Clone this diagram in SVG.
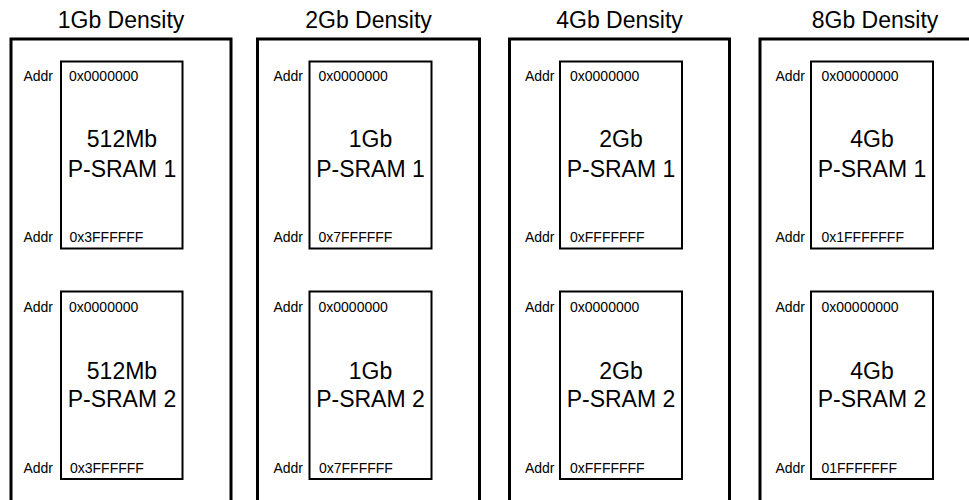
<svg xmlns="http://www.w3.org/2000/svg" width="969" height="500" viewBox="0 0 969 500">
<style>
.outer{fill:none;stroke:#000;stroke-width:3}
.inner{fill:#fff;stroke:#000;stroke-width:2}
text{font-family:"Liberation Sans",Arial,sans-serif;fill:#000}
.title{font-size:23px;text-anchor:middle}
.big{font-size:23px;text-anchor:middle}
.addr{font-size:14px;text-anchor:end}
.hex{font-size:14px}
</style>
<rect width="969" height="500" fill="#fff"/>
<g id="col1">
<text class="title" x="121" y="28">1Gb Density</text>
<rect class="outer" x="11" y="39" width="220" height="480"/>
<g id="c1-sram1">
<rect class="inner" x="61" y="61.5" width="121.5" height="187"/>
<text class="addr" x="53" y="81">Addr</text><text class="hex" x="69" y="81">0x0000000</text>
<text class="big" x="122" y="147">512Mb</text><text class="big" x="122" y="176.5">P-SRAM 1</text>
<text class="addr" x="53" y="241.5">Addr</text><text class="hex" x="69.5" y="241.5">0x3FFFFFF</text>
</g>
<g id="c1-sram2">
<rect class="inner" x="61" y="291.5" width="121.5" height="187.5"/>
<text class="addr" x="53" y="311.5">Addr</text><text class="hex" x="69" y="311.5">0x0000000</text>
<text class="big" x="122" y="379">512Mb</text><text class="big" x="122" y="407">P-SRAM 2</text>
<text class="addr" x="53" y="473">Addr</text><text class="hex" x="70" y="473">0x3FFFFFF</text>
</g>
</g>
<g id="col2">
<text class="title" x="368.5" y="28">2Gb Density</text>
<rect class="outer" x="257.5" y="39" width="222" height="480"/>
<g id="c2-sram1">
<rect class="inner" x="309.5" y="61.5" width="122" height="187"/>
<text class="addr" x="303" y="81">Addr</text><text class="hex" x="318.5" y="81">0x0000000</text>
<text class="big" x="370.5" y="147">1Gb</text><text class="big" x="370.5" y="176.5">P-SRAM 1</text>
<text class="addr" x="303" y="241.5">Addr</text><text class="hex" x="318.5" y="241.5">0x7FFFFFF</text>
</g>
<g id="c2-sram2">
<rect class="inner" x="309.5" y="291.5" width="122" height="187.5"/>
<text class="addr" x="303" y="311.5">Addr</text><text class="hex" x="318.5" y="311.5">0x0000000</text>
<text class="big" x="370.5" y="379">1Gb</text><text class="big" x="370.5" y="407">P-SRAM 2</text>
<text class="addr" x="303" y="473">Addr</text><text class="hex" x="319" y="473">0x7FFFFFF</text>
</g>
</g>
<g id="col3">
<text class="title" x="619.5" y="28">4Gb Density</text>
<rect class="outer" x="509.5" y="39" width="220" height="480"/>
<g id="c3-sram1">
<rect class="inner" x="560" y="61.5" width="122" height="187"/>
<text class="addr" x="554.5" y="80.5">Addr</text><text class="hex" x="570" y="80.5">0x0000000</text>
<text class="big" x="621" y="147">2Gb</text><text class="big" x="621" y="176.5">P-SRAM 1</text>
<text class="addr" x="554.5" y="241.5">Addr</text><text class="hex" x="570" y="241.5">0xFFFFFFF</text>
</g>
<g id="c3-sram2">
<rect class="inner" x="560" y="291.5" width="122" height="187.5"/>
<text class="addr" x="554.5" y="311.5">Addr</text><text class="hex" x="570" y="311.5">0x0000000</text>
<text class="big" x="621" y="379">2Gb</text><text class="big" x="621" y="407">P-SRAM 2</text>
<text class="addr" x="554.5" y="473">Addr</text><text class="hex" x="570" y="473">0xFFFFFFF</text>
</g>
</g>
<g id="col4">
<text class="title" x="875" y="28">8Gb Density</text>
<rect class="outer" x="760" y="39" width="222" height="480"/>
<g id="c4-sram1">
<rect class="inner" x="811" y="61.5" width="122" height="187"/>
<text class="addr" x="805" y="80.5">Addr</text><text class="hex" x="821.5" y="80.5">0x00000000</text>
<text class="big" x="872" y="147">4Gb</text><text class="big" x="872" y="176.5">P-SRAM 1</text>
<text class="addr" x="805" y="241.5">Addr</text><text class="hex" x="821.5" y="241.5">0x1FFFFFFF</text>
</g>
<g id="c4-sram2">
<rect class="inner" x="811" y="291.5" width="122" height="187.5"/>
<text class="addr" x="805" y="311.5">Addr</text><text class="hex" x="821.5" y="311.5">0x00000000</text>
<text class="big" x="872" y="379">4Gb</text><text class="big" x="872" y="407">P-SRAM 2</text>
<text class="addr" x="805" y="473">Addr</text><text class="hex" x="821.5" y="473">01FFFFFFF</text>
</g>
</g>
<g id="connectors"/>
</svg>
